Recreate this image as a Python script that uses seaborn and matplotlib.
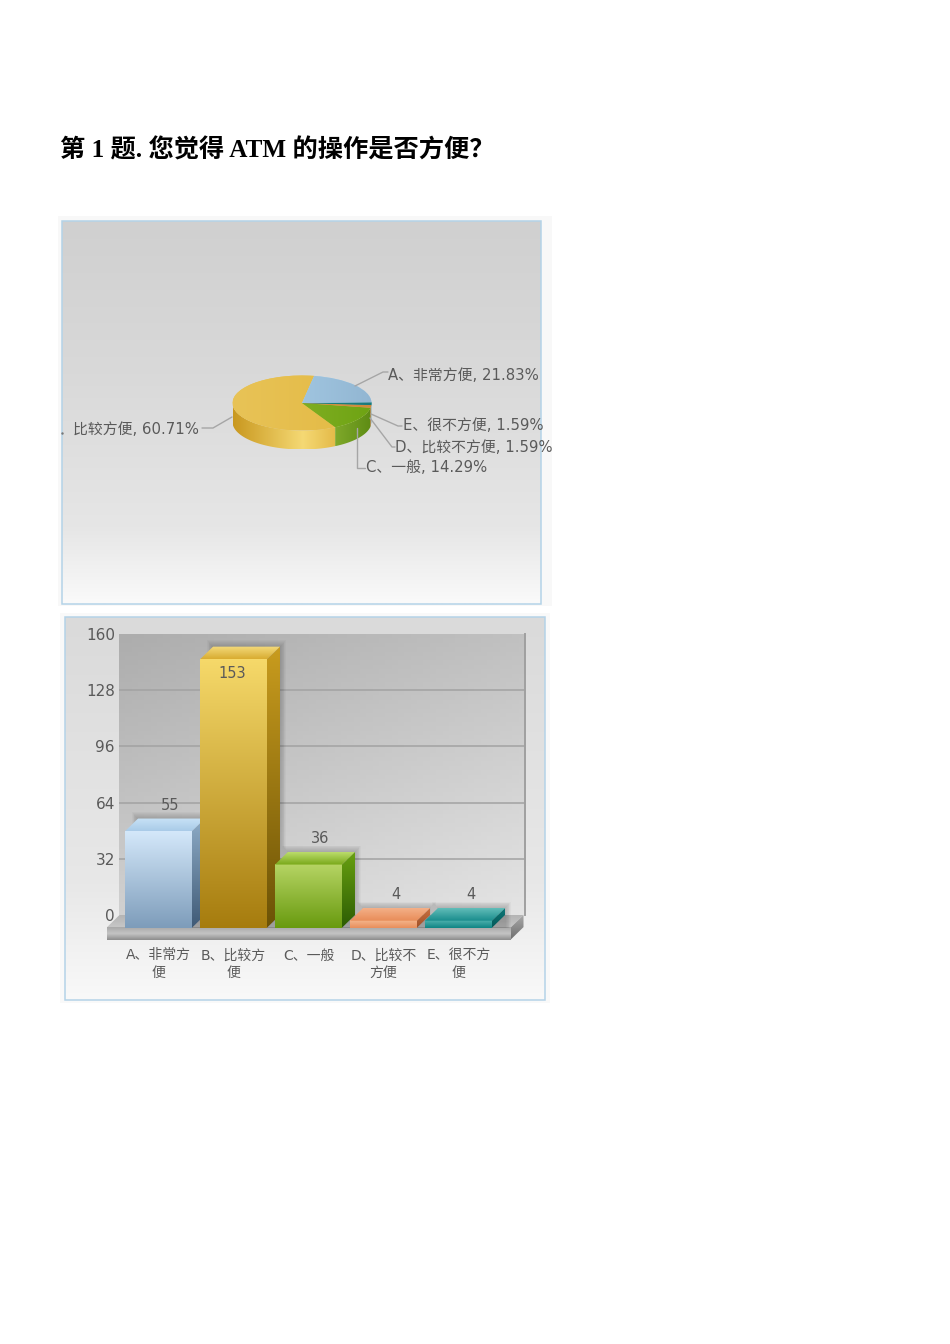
import numpy as np
import matplotlib
matplotlib.use("Agg")
import matplotlib.pyplot as plt
import seaborn as sns
from matplotlib.colors import LinearSegmentedColormap
from matplotlib.patches import Polygon, Rectangle

# survey data
categories = ['A、非常方\n便', 'B、比较方\n便', 'C、一般', 'D、比较不\n方便', 'E、很不方\n便']
counts = [55, 153, 36, 4, 4]
pie_names = ['A、非常方便', '比较方便', 'C、一般', 'D、比较不方便', 'E、很不方便']
percents = [21.83, 60.71, 14.29, 1.59, 1.59]
y_ticks = [0, 32, 64, 96, 128, 160]
title = '第 1 题. 您觉得 ATM 的操作是否方便？'

W, H = 950, 1344
TEXT = '#5a5a5a'

# bar colours: front (top, bottom), side (top, bottom), lid (front, back)
bar_front = [('#d4e8fa', '#7d9cba'), ('#f6d96a', '#a67c0e'), ('#b6d464', '#689a0e'),
             ('#f5b68c', '#e88e5c'), ('#4fb2ae', '#0e8484')]
bar_side = [('#8eacc7', '#3f5a76'), ('#c99c1e', '#6b5206'), ('#68a010', '#2c5c04'),
            ('#c87040', '#a05028'), ('#0e7878', '#045858')]
bar_lid = [('#a9cbe8', '#c8e2f6'), ('#d9ac30', '#f3da7c'), ('#78a818', '#bbdc6c'),
           ('#e88c58', '#f4b088'), ('#188c8c', '#62bdb9')]

# pie colours per category, same order as percents
pie_top = [('#add3ed', '#92b6d2'), ('#e8c357', '#e3b942'), ('#8fb830', '#6ea313'),
           ('#d99a4c', '#d08a3c'), ('#1b8a8a', '#1b7a7a')]
pie_rim = [[(0, '#7d9cba'), (1, '#5d7c9a')],
           [(0, '#c9981f'), (0.68, '#f5d974'), (1, '#e4ba48')],
           [(0, '#7fa92b'), (1, '#5e8c14')],
           [(0, '#b87838'), (1, '#a86828')],
           [(0, '#107070'), (1, '#0c5c5c')]]

sns.set_theme(style='white')
plt.rcParams['font.family'] = ['DejaVu Sans', 'Noto Sans CJK SC']


def px_rect(left, top, right, bottom):
    return [left / W, 1 - bottom / H, (right - left) / W, (bottom - top) / H]


def gradient(ax, extent, colors, vertical=True, clip=None, zorder=1):
    # colors run from bottom to top, or left to right
    cmap = LinearSegmentedColormap.from_list('g', colors)
    ramp = np.linspace(0, 1, 256)
    ramp = ramp[:, None] if vertical else ramp[None, :]
    im = ax.imshow(ramp, cmap=cmap, extent=extent, origin='lower', aspect='auto',
                   vmin=0, vmax=1, zorder=zorder, interpolation='bilinear')
    if clip is not None:
        im.set_clip_path(clip)
    return im


fig = plt.figure(figsize=(W / 100, H / 100), dpi=100, facecolor='white')

# page layer, measured in pixels
bg = fig.add_axes([0, 0, 1, 1], zorder=0)
bg.set_xlim(0, W)
bg.set_ylim(H, 0)
bg.axis('off')
bg.add_patch(Rectangle((58, 216), 494, 390, color='#f8f8f8', lw=0, zorder=0))
bg.add_patch(Rectangle((60, 613), 490, 390, color='#f9f9f9', lw=0, zorder=0))
gradient(bg, (62, 541, 604, 221), [(0, '#fafafa'), (0.2, '#e6e6e6'), (0.6, '#d9d9d9'), (1, '#d0d0d0')])
gradient(bg, (65, 545, 1000, 617), [(0, '#f9f9f9'), (0.3, '#e8e8e8'), (1, '#dadada')])
bg.add_patch(Rectangle((62, 221), 479, 383, fill=False, ec='#b4d3e8', lw=1.1, zorder=3))
bg.add_patch(Rectangle((65, 617), 480, 383, fill=False, ec='#b4d3e8', lw=1.1, zorder=3))
bg.set_xlim(0, W)
bg.set_ylim(H, 0)
bg.text(60, 150, title, fontsize=18.2, fontweight='bold', color='black', va='center',
        family=['Liberation Serif', 'Noto Sans CJK SC'])

# 3d pie: the flat pie is squeezed to an ellipse by its axes
cx, cy, rx, ry, rim_px = 302, 403, 69.5, 27.5, 19
pie_ax = fig.add_axes(px_rect(cx - rx * 1.1, cy - ry * 1.1, cx + rx * 1.1, cy + ry * 1.8), zorder=2)
depth = rim_px / ry
pie_order = [1, 2, 3, 4, 0]
wedges, _ = pie_ax.pie([percents[i] for i in pie_order], startangle=80,
                       colors=[pie_top[i][0] for i in pie_order], wedgeprops={'lw': 0, 'zorder': 3})
pie_ax.set_aspect('auto')
for idx, wedge in zip(pie_order, wedges):
    a1, a2 = max(wedge.theta1, 180), min(wedge.theta2, 360)
    if a2 > a1:
        t = np.radians(np.linspace(a1, a2, 80))
        xs, ys = np.cos(t), np.sin(t)
        pts = np.r_[np.c_[xs, ys], np.c_[xs, ys - depth][::-1]]
        shape = Polygon(pts, transform=pie_ax.transData)
        gradient(pie_ax, (xs.min(), xs.max(), ys.min() - depth, ys.max()), pie_rim[idx],
                 vertical=False, clip=shape, zorder=2)
    gradient(pie_ax, (-1, 1, -1, 1), pie_top[idx], vertical=False, clip=wedge, zorder=4)
pie_ax.set_xlim(-1.1, 1.1)
pie_ax.set_ylim(-1.8, 1.1)
pie_ax.axis('off')

# back wall of the bar chart carries the value axis
wall = fig.add_axes(px_rect(119, 634, 525, 915), zorder=2)
shade = np.add.outer(np.linspace(1, 0, 64), np.linspace(0, 0.55, 64)) / 1.55
wall.imshow(shade, cmap=LinearSegmentedColormap.from_list('w', ['#adadad', '#e4e4e4']),
            extent=(0, 1, 0, 160), origin='lower', aspect='auto', vmin=0, vmax=1)
wall.set_xlim(0, 1)
wall.set_ylim(0, 160)
wall.set_xticks([])
wall.set_yticks(y_ticks)
wall.set_yticklabels([str(v) for v in y_ticks], fontsize=11, color=TEXT)
wall.tick_params(axis='y', length=0, pad=3)
wall.grid(axis='y', color='#a2a2a2', lw=1.1)
wall.get_ygridlines()[0].set_visible(False)
wall.get_ygridlines()[-1].set_visible(False)
for name in ['top', 'left', 'bottom']:
    wall.spines[name].set_visible(False)
wall.spines['right'].set_color('#a0a0a0')
wall.spines['right'].set_linewidth(1.4)

# bars sit on the front plane, same scale as the wall
px_x, px_y, zero_y = 75, 1.754, 927.7
ax = fig.add_axes(px_rect(107, 634, 525, 940), zorder=3)
ax.patch.set_alpha(0)
sns.barplot(x=categories, y=counts, hue=categories, palette=[c[0] for c in bar_front],
            saturation=1, width=0.893, legend=False, ax=ax)
dx, dy = 13 / px_x, 12.7 / px_y
bars = list(ax.patches)
for i, (bar, value) in enumerate(zip(bars, counts)):
    x0, x1 = bar.get_x(), bar.get_x() + bar.get_width()
    h = bar.get_height()
    z = 3 + i * 2
    bar.set_visible(False)
    # soft shadow behind the bar
    for e in range(1, 8):
        ex, ey = e * 0.9 / px_x, e * 0.9 / px_y
        ax.add_patch(Rectangle((x0 + dx - ex, 0), x1 - x0 + 2 * ex, h + dy + ey,
                               color='black', alpha=0.028, lw=0, zorder=z))
    gradient(ax, (x0, x1, 0, h), [bar_front[i][1], bar_front[i][0]], zorder=z + 1)
    side = Polygon([(x1, 0), (x1 + dx, dy), (x1 + dx, h + dy), (x1, h)], transform=ax.transData)
    gradient(ax, (x1, x1 + dx, 0, h + dy), [bar_side[i][1], bar_side[i][0]], clip=side, zorder=z + 1)
    lid = Polygon([(x0, h), (x1, h), (x1 + dx, h + dy), (x0 + dx, h + dy)], transform=ax.transData)
    gradient(ax, (x0, x1 + dx, h, h + dy), list(bar_lid[i]), clip=lid, zorder=z + 1)
    # value labels, the tall bar has its label inside
    inside = value > 150
    ax.annotate(str(value), xy=((x0 + x1) / 2, h),
                xytext=((-1.5 if inside else 12) * 0.72, (-14 if inside else 26) * 0.72),
                textcoords='offset points', ha='center', va='center',
                fontsize=10.5, color=TEXT, zorder=30)

# floor and front edge of the platform
floor_l, floor_r = (106.5 - 158.5) / px_x, (510.5 - 158.5) / px_x
floor = Polygon([(floor_l, 0), (floor_r, 0), (floor_r + dx, dy), (floor_l + dx, dy)], transform=ax.transData)
gradient(ax, (floor_l, floor_r + dx, 0, dy), ['#c8c8c8', '#b4b4b4'], clip=floor, zorder=2)
gradient(ax, (floor_l, floor_r, -6.9, 0), ['#8c8c8c', '#c4c4c4', '#a8a8a8'], zorder=2)
end = Polygon([(floor_r, -6.9), (floor_r + dx, dy - 6.9), (floor_r + dx, dy), (floor_r, 0)], transform=ax.transData)
gradient(ax, (floor_r, floor_r + dx, -6.9, dy), ['#6e6e6e', '#a8a8a8'], clip=end, zorder=2)

ax.set_xlim((107 - 158.5) / px_x, (525 - 158.5) / px_x)
ax.set_ylim((zero_y - 940) / px_y, (zero_y - 634) / px_y)
ax.set_yticks([])
ax.set_ylabel('')
ax.set_xlabel('')
ax.tick_params(axis='x', length=0, pad=6, labelsize=10, labelcolor=TEXT)
for tick_label in ax.get_xticklabels():
    tick_label.set_linespacing(1.3)
sns.despine(ax=ax, left=True, bottom=True)

# pie labels and leader lines, measured in pixels
fg = fig.add_axes([0, 0, 1, 1], zorder=10)
fg.patch.set_alpha(0)
fg.set_xlim(0, W)
fg.set_ylim(H, 0)
fg.axis('off')
leaders = [[(355, 386), (383, 372), (388, 372)],
           [(232, 417), (213, 428), (202, 428)],
           [(357, 428), (357, 468), (365, 468)],
           [(370, 418), (392, 447), (395, 447)],
           [(371, 414), (398, 426), (402, 426)]]
label_pos = [(388, 375, 'left'), (199, 430, 'right'), (366, 468, 'left'), (395, 447, 'left'), (403, 425, 'left')]
for name, pct, line, (lx, ly, ha) in zip(pie_names, percents, leaders, label_pos):
    fg.plot(*zip(*line), color='#a6a6a6', lw=1)
    fg.text(lx, ly, f'{name}, {pct:.2f}%', fontsize=10.7, color=TEXT, ha=ha, va='center')
fg.plot([62], [433], marker='.', ms=1.5, color='#777777')

fig.savefig('out.png', dpi=100)
